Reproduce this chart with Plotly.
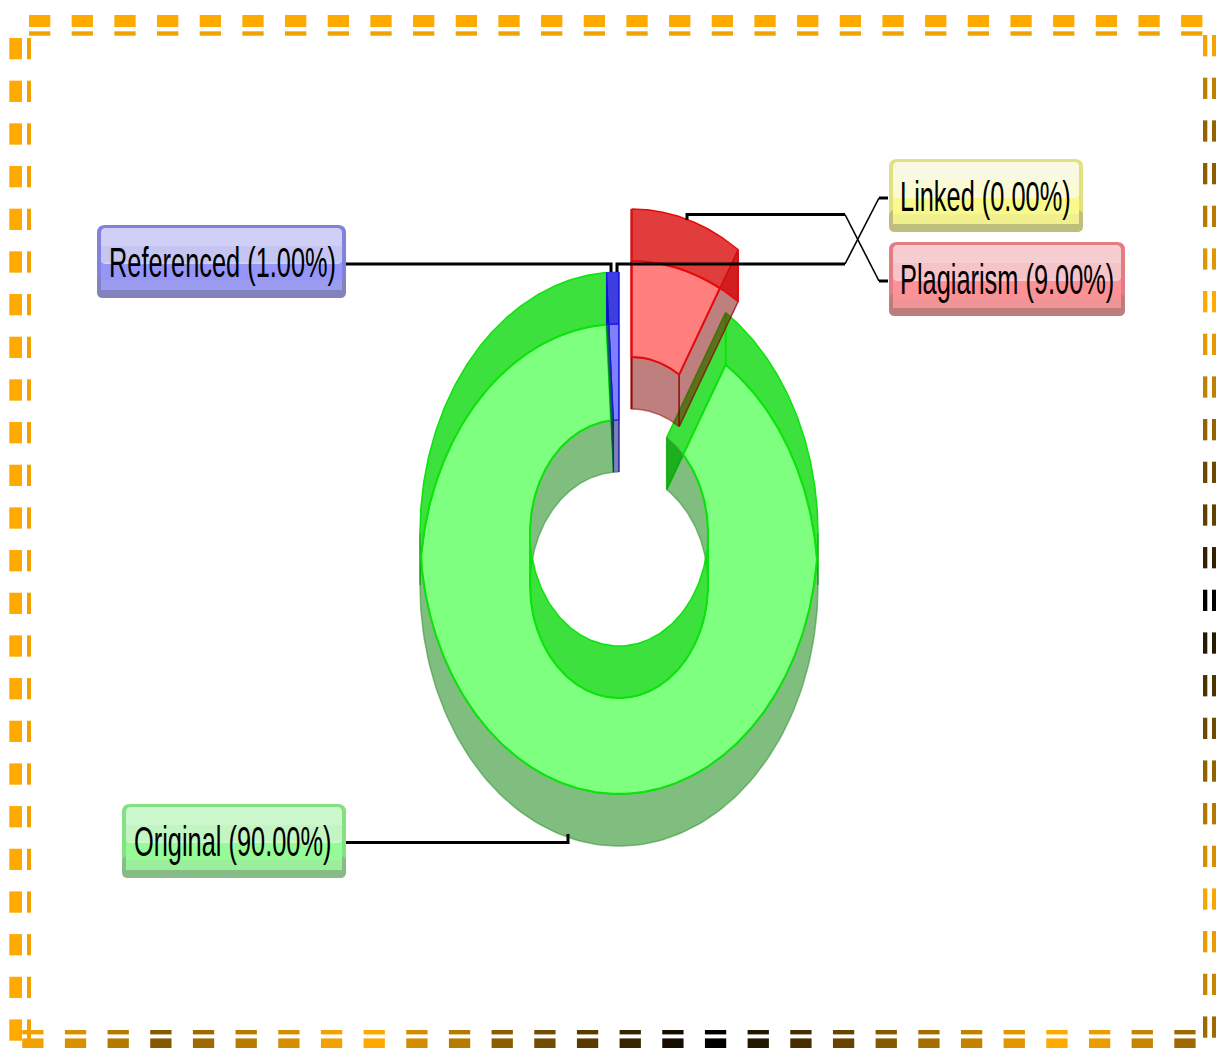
import numpy as np
import plotly.graph_objects as go

# ---------- data ----------
categories = ["Plagiarism", "Linked", "Original", "Referenced"]
values = [9.0, 0.0, 90.0, 1.0]
hues = {"Plagiarism": "red", "Linked": "yellow", "Original": "green", "Referenced": "blue"}

label_names = ["Linked", "Plagiarism", "Referenced", "Original"]
label_boxes = [(889, 1083, 159, 232), (889, 1125, 242, 316), (97, 346, 225, 298), (122, 346, 804, 878)]
label_text_x = [897.5, 897.5, 107, 131.5]

# ---------- palettes ----------
PAL = {
    "green": dict(line="rgb(10,228,10)", face="rgba(0,255,0,0.5)", bright="rgba(0,215,0,0.76)", dim="rgba(0,125,0,0.5)",
                  edge="rgb(130,225,130)", hi="rgb(205,247,205)", hi2="rgb(195,245,195)", lo="rgb(150,250,150)", lo2="rgb(155,238,155)", foot="rgb(135,188,135)"),
    "red": dict(line="rgb(232,10,10)", face="rgba(255,0,0,0.5)", bright="rgba(215,0,0,0.76)", dim="rgba(125,0,0,0.5)",
                edge="rgb(226,125,130)", hi="rgb(246,205,208)", hi2="rgb(246,195,200)", lo="rgb(252,145,150)", lo2="rgb(240,148,152)", foot="rgb(190,125,125)"),
    "blue": dict(line="rgb(20,20,230)", face="rgba(0,0,255,0.5)", bright="rgba(0,0,215,0.76)", dim="rgba(0,0,125,0.5)",
                 edge="rgb(130,130,222)", hi="rgb(208,208,247)", hi2="rgb(197,197,242)", lo="rgb(150,150,250)", lo2="rgb(155,155,240)", foot="rgb(130,130,190)"),
    "yellow": dict(line="rgb(230,230,10)", face="rgba(255,255,0,0.5)", bright="rgba(215,215,0,0.76)", dim="rgba(125,125,0,0.5)",
                   edge="rgb(225,225,130)", hi="rgb(250,250,228)", hi2="rgb(250,250,212)", lo="rgb(250,250,140)", lo2="rgb(240,240,142)", foot="rgb(190,190,125)"),
}

# ---------- geometry ----------
CX, YA, YB = 619.0, 533.0, 585.0
RXO, RYO, RXI, RYI = 199.0, 261.0, 89.0, 113.0
EXPLODE = {"Plagiarism": (12.5, -63.0)}


def pt(th, r, yc, dx, dy):
    rx, ry = (RXO, RYO) if r == "o" else (RXI, RYI)
    return CX + dx + rx * np.sin(th), yc + dy - ry * np.cos(th)


def hit(th, yc_edge, yc_ell, rx, ry, dx, dy):
    """Parameter at which the radial edge at angle th meets an ellipse."""
    x0, y0 = pt(th, "i", yc_edge, dx, dy)
    x1, y1 = pt(th, "o", yc_edge, dx, dy)
    t = np.linspace(-0.6, 1.6, 6000)
    x, y = x0 + t * (x1 - x0), y0 + t * (y1 - y0)
    u, v = (x - CX - dx) / rx, (y - yc_ell - dy) / ry
    i = np.argmin(np.abs(u * u + v * v - 1))
    a = np.arctan2(u[i], -v[i])
    while a < th - np.pi:
        a += 2 * np.pi
    while a > th + np.pi:
        a -= 2 * np.pi
    return a


def poly(fig, xs, ys, fill, line, width=2.0):
    fig.add_trace(go.Scatter(x=np.asarray(xs), y=np.asarray(ys), mode="lines", fill="toself",
                             fillcolor=fill, line=dict(color=line, width=width),
                             hoverinfo="skip", showlegend=False))


def segs(a, b, lo, hi):
    s, e = max(a, lo), min(b, hi)
    return (s, e) if e > s else None


def wall(fig, a, b, r, fill, line, width=1.5):
    th = np.linspace(a, b, 120)
    xa, ya = pt(th, r, YA, DX, DY)
    xb, yb = pt(th, r, YB, DX, DY)
    poly(fig, np.r_[xa, xb[::-1], xa[0]], np.r_[ya, yb[::-1], ya[0]], fill, line, width)


def side(fig, th, fill, line, width=1.5):
    xi, yi = pt(th, "i", YA, DX, DY)
    xo, yo = pt(th, "o", YA, DX, DY)
    xq, yq = pt(th, "o", YB, DX, DY)
    xr, yr = pt(th, "i", YB, DX, DY)
    poly(fig, [xi, xo, xq, xr, xi], [yi, yo, yq, yr, yi], fill, line, width)


def face(fig, a, b, fill, line, width=2.0):
    # the visible face is where the upper and lower rings both cover the sector
    ys = YB if np.sin(a) > 0 else YA
    ye = YA if np.sin(b) > 0 else YB
    oa = hit(a, ys, YB, RXO, RYO, DX, DY)
    ob = hit(b, ye, YB, RXO, RYO, DX, DY)
    ia = hit(a, ys, YA, RXI, RYI, DX, DY)
    ib = hit(b, ye, YA, RXI, RYI, DX, DY)
    tho = np.linspace(oa, ob, 900)
    c = np.cos(tho)
    keep = np.abs(c) >= (YB - YA) / (2 * RYO)
    tho = tho[keep]
    c = c[keep]
    xo = CX + DX + RXO * np.sin(tho)
    yo = np.where(c > 0, YB, YA) + DY - RYO * c
    thi = np.linspace(ia, ib, 900)
    c = np.cos(thi)
    xi = CX + DX + RXI * np.sin(thi)
    yi = np.where(c > 0, YA, YB) + DY - RYI * c
    poly(fig, np.r_[xo, xi[::-1], xo[0]], np.r_[yo, yi[::-1], yo[0]], fill, line, width)


fig = go.Figure()

# slices: angles come from the values, clockwise from twelve o'clock
total = sum(values)
cum = np.cumsum([0.0] + values) / total * 2 * np.pi
order = [2, 3, 0]  # paint Original first, then Referenced, then Plagiarism
for k in order:
    name = categories[k]
    if values[k] == 0:
        continue
    a, b = cum[k], cum[k + 1]
    p = PAL[hues[name]]
    DX, DY = EXPLODE.get(name, (0.0, 0.0))
    thin = 0.8 if name == "Referenced" else 1.5
    # end walls
    if name == "Original":
        side(fig, a, p["bright"], p["line"])
        side(fig, b, "rgba(0,110,60,0.75)", "rgba(0,130,70,0.8)", 1.0)
    elif name == "Plagiarism":
        side(fig, a, p["dim"], "rgb(170,0,0)", 2.0)
        side(fig, b, p["dim"], "rgba(140,0,0,0.7)")
    else:
        side(fig, a, p["dim"], "rgba(0,100,70,0.7)", 0.8)
        side(fig, b, p["dim"], "rgba(20,20,160,0.8)", 0.8)
    # outer wall: lit along the top, shaded along the bottom
    for lo, hi in [(0, np.pi / 2), (1.5 * np.pi, 2 * np.pi)]:
        s = segs(a, b, lo, hi)
        if s:
            wall(fig, *s, "o", p["bright"], p["line"], thin)
    s = segs(a, b, np.pi / 2, 1.5 * np.pi)
    if s:
        wall(fig, *s, "o", p["dim"], "rgba(60,150,60,0.6)")
    # inner wall: shaded along the top, lit along the bottom
    for lo, hi in [(0, np.pi / 2), (1.5 * np.pi, 2 * np.pi)]:
        s = segs(a, b, lo, hi)
        if s:
            line = "rgba(150,0,0,0.5)" if name == "Plagiarism" else ("rgba(20,20,160,0.6)" if name == "Referenced" else "rgba(60,150,60,0.6)")
            wall(fig, *s, "i", p["dim"], line, thin)
    s = segs(a, b, np.pi / 2, 1.5 * np.pi)
    if s:
        wall(fig, *s, "i", p["bright"], p["line"])
    face(fig, a, b, p["face"], p["line"], 1.0 if name == "Referenced" else 2.0)

# ---------- dashed frame ----------
shapes = []
ORANGE = np.array([255, 170, 0])


def shade(b):
    r, g, bl = ORANGE * float(np.clip(b, 0, 1))
    return f"rgb({r:.0f},{g:.0f},{bl:.0f})"


def rect(x0, x1, y0, y1, color):
    shapes.append(dict(type="rect", x0=x0, x1=x1, y0=y0, y1=y1, fillcolor=color, line_width=0, layer="below"))


PERIOD, DASH = 42.67, 21.3
right_y = [45, 88, 131, 174, 216, 259, 302, 345, 388, 430, 473, 515, 557, 600, 643, 685, 900, 943, 985, 1027]
right_b = [.96, .75, .58, .55, .72, .88, 1, .9, .75, .58, .42, .38, .2, 0, .15, .3, .98, .92, .78, .62]
bottom_x = [20, 32, 75, 117, 160, 203, 245, 288, 331, 373, 416, 459, 501, 544, 587, 629, 672, 715, 757, 800, 843, 1056, 1100, 1142, 1185]
bottom_b = [1, .95, .85, .72, .52, .62, .72, .83, .95, 1, .83, .72, .55, .45, .35, .22, .08, 0, .13, .27, .4, 1, .92, .78, .62]

for i in range(28):  # top
    x = 29 + PERIOD * i
    rect(x, x + DASH, 15, 27, shade(1))
    rect(x, x + DASH, 31.3, 35.7, shade(.95))
for i in range(24):  # left
    y = 38 + PERIOD * i
    rect(9.3, 22, y, y + DASH, shade(1))
    rect(27, 31, y, y + DASH, shade(.95))
for i in range(24):  # right
    y = 35 + PERIOD * i
    b = np.interp(y + DASH / 2, right_y, right_b)
    rect(1203, 1207.3, y, y + DASH, shade(b))
    rect(1212, 1216, y, y + DASH, shade(b))
for i in range(28):  # bottom
    x = 1174.3 - PERIOD * i
    b = np.interp(x + DASH / 2, bottom_x, bottom_b)
    rect(x, x + DASH, 1030, 1034.4, shade(b))
    rect(x, x + DASH, 1038.4, 1048, shade(b))


# ---------- leader lines ----------
def leader(xs, ys, width=3):
    d = "M" + " L".join(f"{x},{y}" for x, y in zip(xs, ys))
    shapes.append(dict(type="path", path=d, line=dict(color="black", width=width), layer="above"))


leader([346, 611, 611], [264, 264, 272])
leader([617, 617, 845], [272, 264, 264])
leader([845, 879], [264, 198], 1.6)
leader([879, 888], [198, 198])
leader([687, 687, 845], [220, 214.5, 214.5])
leader([845, 879], [214.5, 281], 1.6)
leader([879, 888], [281, 281])
leader([346, 568, 568], [842.5, 842.5, 834])


# ---------- label boxes ----------
def rounded(x0, x1, y0, y1, r, fill):
    d = (f"M{x0 + r},{y0} L{x1 - r},{y0} Q{x1},{y0} {x1},{y0 + r} L{x1},{y1 - r} Q{x1},{y1} {x1 - r},{y1} "
         f"L{x0 + r},{y1} Q{x0},{y1} {x0},{y1 - r} L{x0},{y0 + r} Q{x0},{y0} {x0 + r},{y0} Z")
    shapes.append(dict(type="path", path=d, fillcolor=fill, line_width=0, layer="below"))


annotations = []
for name, (x0, x1, y0, y1), tx in zip(label_names, label_boxes, label_text_x):
    p = PAL[hues[name]]
    ym = y0 + 37
    rounded(x0, x1, y0, y1, 8, p["edge"])
    rounded(x0, x1, y1 - 22, y1, 6, p["foot"])
    rect(x0 + 4, x1 - 4, ym, y1 - 8, p["lo"])
    rect(x0 + 4, x1 - 4, y1 - 18, y1 - 8, p["lo2"])
    rounded(x0 + 4, x1 - 4, y0 + 3, ym + 2, 5, p["hi"])
    rect(x0 + 4, x1 - 4, ym - 16, ym, p["hi2"])
    v = values[categories.index(name)]
    annotations.append(dict(x=tx, y=(y0 + y1) / 2, text=f"{name} ({v:.2f}%)", showarrow=False,
                            xanchor="left", yanchor="middle", xref="x", yref="y",
                            font=dict(family="Liberation Sans", size=43, color="black")))

fig.update_layout(
    width=1216, height=1048, margin=dict(l=0, r=0, t=0, b=0), autosize=False,
    paper_bgcolor="white", plot_bgcolor="white", showlegend=False,
    xaxis=dict(range=[0, 1216], visible=False, fixedrange=True),
    yaxis=dict(range=[1048, 0], visible=False, fixedrange=True),
    shapes=shapes, annotations=annotations,
)

# The reference's labels are tall and condensed; no narrow face is installed, so squeeze the real text.
SQUEEZE = 0.59
post = """
document.body.style.margin='0';document.body.style.overflow='hidden';
(function(){
  function squeeze(){
    document.querySelectorAll('.annotation-text').forEach(function(t){
      var b=t.getBBox();
      t.setAttribute('transform','translate('+b.x+',0) scale(%s,1) translate('+(-b.x)+',0)');
    });
  }
  squeeze();
  var gd=document.querySelector('.plotly-graph-div');
  if(gd&&gd.on){gd.on('plotly_afterplot',squeeze);}
  requestAnimationFrame(squeeze);
})();
""" % SQUEEZE
fig.write_html("out.html", config={"displayModeBar": False}, post_script=post)
